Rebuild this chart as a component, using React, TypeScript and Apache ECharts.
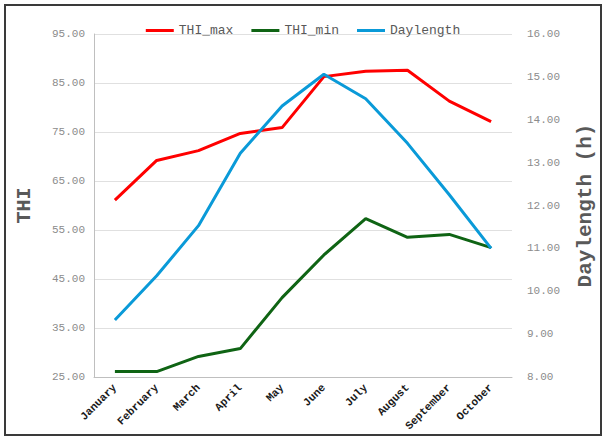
import React, { useEffect, useRef } from "react";
import * as echarts from "echarts";

const months = ["January", "February", "March", "April", "May", "June", "July", "August", "September", "October"];
const thiMax = [61.1, 69.2, 71.2, 74.7, 75.9, 86.3, 87.4, 87.6, 81.3, 77.1];
const thiMin = [26.1, 26.1, 29.2, 30.8, 41.2, 49.9, 57.3, 53.5, 54.1, 51.4];
const daylength = [9.33, 10.36, 11.53, 13.22, 14.32, 15.06, 14.49, 13.45, 12.25, 11.0];

const FONT = "'Liberation Mono', 'Courier New', monospace";

export default function App() {
  const ref = useRef<HTMLDivElement>(null);
  useEffect(() => {
    document.body.style.margin = "0";
    const chart = echarts.init(ref.current!, null, { renderer: "svg" });
    chart.setOption({
      animation: false,
      backgroundColor: "#ffffff",
      graphic: [
        {
          type: "rect",
          shape: { x: 5, y: 5, width: 596, height: 430 },
          style: { fill: "none", stroke: "#3a3a3a", lineWidth: 2 },
          silent: true,
        },
      ],
      legend: {
        top: 19,
        left: "center",
        icon: "rect",
        itemWidth: 28,
        itemHeight: 3,
        itemGap: 18,
        textStyle: { fontFamily: FONT, fontSize: 13, color: "#595959" },
        data: ["THI_max", "THI_min", "Daylength"],
      },
      grid: { left: 94, right: 94, top: 34, bottom: 63 },
      xAxis: {
        type: "category",
        data: months,
        boundaryGap: true,
        axisLine: { lineStyle: { color: "#bfbfbf", width: 1 } },
        axisTick: { show: false },
        axisLabel: {
          interval: 0,
          rotate: 45,
          fontFamily: FONT,
          fontSize: 11,
          fontWeight: "bold",
          color: "#1a1a1a",
          margin: 9,
        },
      },
      yAxis: [
        {
          type: "value",
          min: 25,
          max: 95,
          interval: 10,
          name: "THI",
          nameLocation: "middle",
          nameRotate: 90,
          nameGap: 60,
          nameTextStyle: { fontFamily: FONT, fontSize: 20, fontWeight: "bold", color: "#595959" },
          axisLine: { show: true, lineStyle: { color: "#bfbfbf", width: 1 } },
          axisTick: { show: false },
          axisLabel: {
            fontFamily: FONT,
            fontSize: 11,
            color: "#8c8c8c",
            margin: 9,
            formatter: (v: number) => v.toFixed(2),
          },
          splitLine: { show: true, lineStyle: { color: "#e0e0e0", width: 1 } },
        },
        {
          type: "value",
          min: 8,
          max: 16,
          interval: 1,
          name: "Daylength (h)",
          nameLocation: "middle",
          nameRotate: 90,
          nameGap: 63,
          nameTextStyle: { fontFamily: FONT, fontSize: 21, fontWeight: "bold", color: "#595959" },
          axisLine: { show: false },
          axisTick: { show: false },
          axisLabel: {
            fontFamily: FONT,
            fontSize: 11,
            color: "#8c8c8c",
            margin: 15,
            formatter: (v: number) => v.toFixed(2),
          },
          splitLine: { show: false },
        },
      ],
      series: [
        {
          name: "THI_max",
          type: "line",
          yAxisIndex: 0,
          data: thiMax,
          symbol: "none",
          lineStyle: { color: "#ff0000", width: 3 },
          itemStyle: { color: "#ff0000" },
        },
        {
          name: "THI_min",
          type: "line",
          yAxisIndex: 0,
          data: thiMin,
          symbol: "none",
          lineStyle: { color: "#0f6414", width: 3 },
          itemStyle: { color: "#0f6414" },
        },
        {
          name: "Daylength",
          type: "line",
          yAxisIndex: 1,
          data: daylength,
          symbol: "none",
          lineStyle: { color: "#0a9ad8", width: 3 },
          itemStyle: { color: "#0a9ad8" },
        },
      ],
    });
    return () => chart.dispose();
  }, []);
  return <div ref={ref} style={{ width: 606, height: 440 }} />;
}
